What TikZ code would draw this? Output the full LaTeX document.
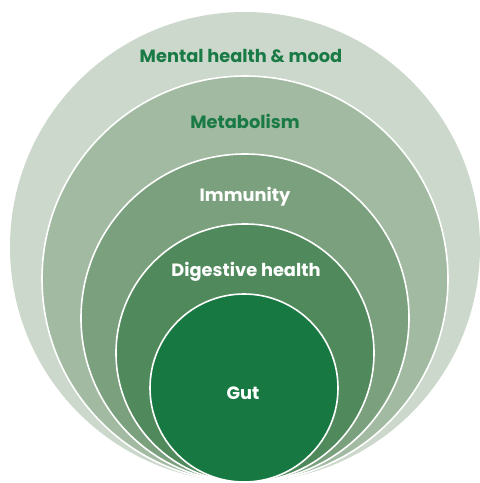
\documentclass[tikz,border=0pt]{standalone}
\usepackage{fontspec}
\setmainfont{Poppins}
\definecolor{cOuter}{HTML}{CBD8CB}
\definecolor{cMeta}{HTML}{A1BAA1}
\definecolor{cImm}{HTML}{7BA07D}
\definecolor{cDig}{HTML}{508A5C}
\definecolor{cGut}{HTML}{177941}
\definecolor{cText}{HTML}{1A7A45}
\begin{document}
\begin{tikzpicture}[x=1pt,y=-1pt,
  ring/.style={circle, inner sep=0pt, draw=white, line width=1.6pt},
  lbl/.style={font=\bfseries\fontsize{17.8}{20}\selectfont, inner sep=0pt}]
\useasboundingbox (0,0) rectangle (480,483);
\fill[white] (0,0) rectangle (480,483);
\node[ring, draw=none, fill=cOuter, minimum size=470pt] (outer) at (245,247) {};
\node[ring, fill=cMeta, minimum size=406pt] (meta) at (245,279) {};
\node[ring, fill=cImm, minimum size=328pt] (imm) at (245,318) {};
\node[ring, fill=cDig, minimum size=258pt] (dig) at (245,353) {};
\node[ring, fill=cGut, minimum size=188pt] (gut) at (244,388) {};
\node[lbl, text=cText] (t1) at (241,56) {Mental health \& mood};
\node[lbl, text=cText] (t2) at (245,121) {Metabolism};
\node[lbl, text=white] (t3) at (245,197) {Immunity};
\node[lbl, text=white] (t4) at (246,272) {Digestive health};
\node[lbl, text=white] (t5) at (243,393) {Gut};
\end{tikzpicture}
\end{document}
